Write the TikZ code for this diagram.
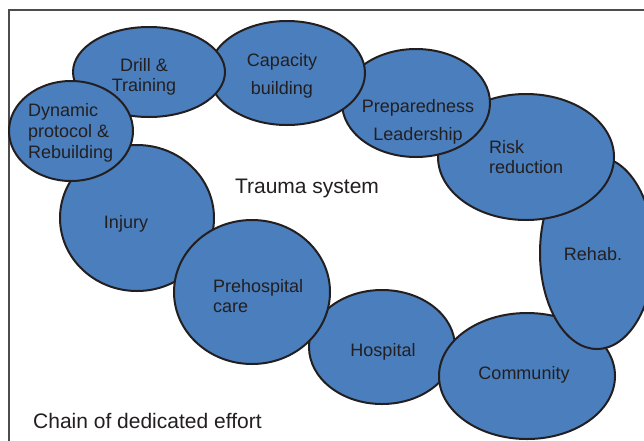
\documentclass[tikz,border=0pt]{standalone}
\usepackage{fontspec}
\setmainfont{Liberation Sans}
\usetikzlibrary{shapes.geometric}
\definecolor{blobblue}{HTML}{4A7EBC}
\definecolor{inkdark}{HTML}{231F20}

\begin{document}
\begin{tikzpicture}[x=1pt,y=-1pt,
    blob/.style={ellipse,draw=inkdark,fill=blobblue,line width=2pt,inner sep=0pt},
    lbl/.style={inner sep=0pt,yshift=-2pt,text=inkdark,font=\fontsize{18}{20}\selectfont},
    big/.style={inner sep=0pt,yshift=-1.5pt,text=inkdark,font=\fontsize{21}{24}\selectfont}]
  \useasboundingbox (0,0) rectangle (644,440);
  \clip (0,0) rectangle (644,440);
  \fill[white] (0,0) rectangle (644,440);
  \draw[gray!60!black,line width=1.2pt] (9,460) -- (9,10) -- (660,10);
  \foreach \n/\cx/\cy/\w/\h in {hosp/382/347/146/114,comm/527/376/176/126,
      rehab/597/253/114/192,risk/526/157/176/126,prep/416/103/148/108,
      cap/287/73/156/104,drill/149/72/152/90,injury/137/218/154/146,
      prehosp/252/292/156/144,dyn/71/131/124/100}
    \node[blob,minimum width=\w,minimum height=\h] (\n) at (\cx,\cy) {};
  \node[lbl,align=center] (drilltxt) at (144,75) {Drill \&\\Training};
  \node[lbl,align=center] (captxt) at (282,74) {Capacity\\[8pt]building};
  \node[lbl,align=left,anchor=west] (dyntxt) at (28,131) {Dynamic\\[1pt]protocol \&\\[1pt]Rebuilding};
  \node[lbl] (injurytxt) at (126,222) {Injury};
  \node[lbl,align=left,anchor=west] (prehosptxt) at (213,294) {Prehospital\\care};
  \node[lbl] (hosptxt) at (383,350) {Hospital};
  \node[lbl] (commtxt) at (524,373) {Community};
  \node[lbl] (rehabtxt) at (593,252) {Rehab.};
  \node[lbl,align=left,anchor=west] (risktxt) at (489,155) {Risk\\reduction};
  \node[lbl,align=center] (preptxt) at (418,120) {Preparedness\\[8pt]Leadership};
  \node[big] (trauma) at (307,187) {Trauma system};
  \node[big,anchor=west] (chain) at (33,419) {Chain of dedicated effort};
\end{tikzpicture}
\end{document}
